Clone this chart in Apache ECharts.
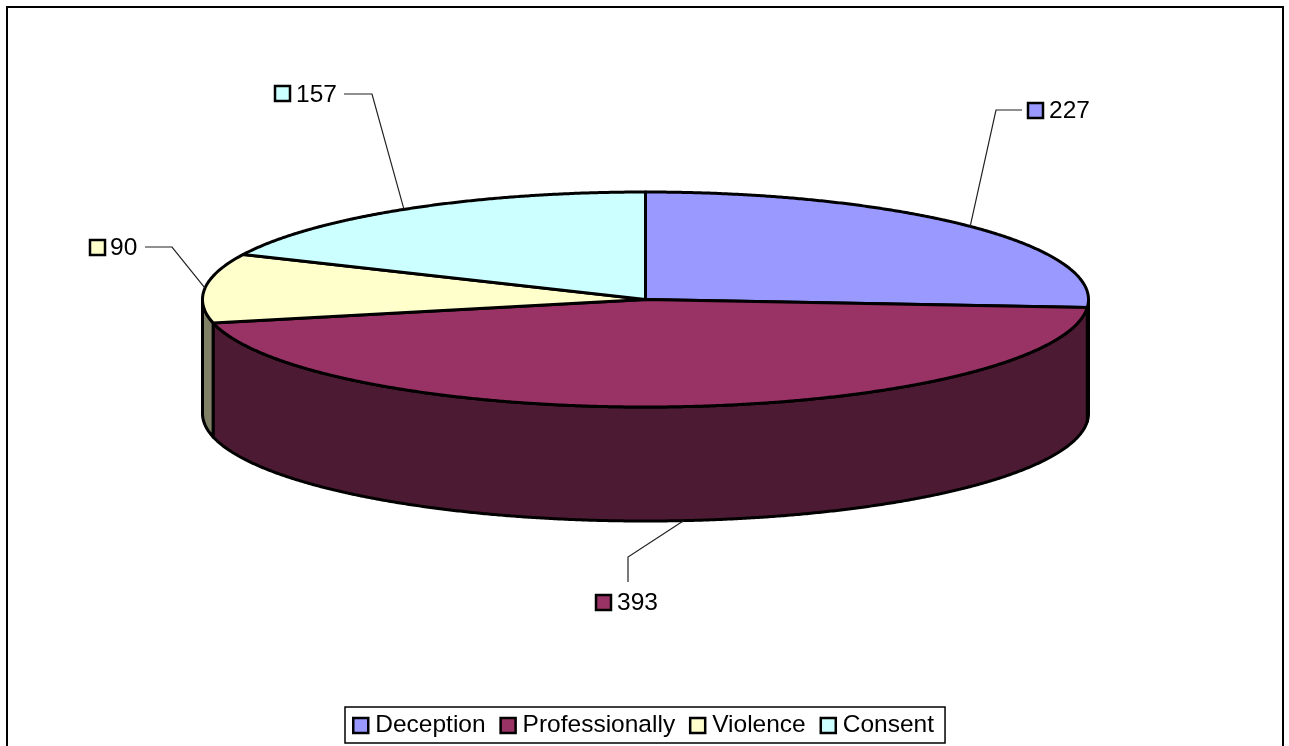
<!DOCTYPE html>
<html>
<head>
<meta charset="utf-8">
<style>
    html, body { margin: 0; padding: 0; background: #fff; overflow: hidden; }
    #chart { width: 1289px; height: 746px; }
</style>
<script src="https://cdn.jsdelivr.net/npm/echarts@6/dist/echarts.min.js"></script>
</head>
<body>
<div id="chart"></div>
<script>
    const categories = ['Deception', 'Professionally', 'Violence', 'Consent'];
    const values = [227, 393, 90, 157];
    const colors = ['#9999FF', '#993366', '#FFFFCC', '#CCFFFF'];
    const sideColors = ['#4D4D80', '#4D1A33', '#808066', '#668080'];

    // pie disc geometry, in pixels
    const cx = 645.5, cy = 299.5, rx = 443, ry = 107.5, depth = 114;
    // leader line nudge + elbow + end, swatch corner and text start for each label
    const labelLayout = [
        { nudge: 0, line: [[996, 110], [1022, 110]], box: [1028, 103], text: [1049, 111] },
        { nudge: 6, line: [[628, 557], [628, 582]], box: [596, 595], text: [617, 603] },
        { nudge: 0, line: [[172, 247], [145, 247]], box: [90, 240], text: [110, 248] },
        { nudge: -3, line: [[372, 94], [344, 94]], box: [275, 86], text: [296, 95] }
    ];

    const total = values.reduce((a, b) => a + b, 0);
    const toAngle = v => v / total * Math.PI * 2;

    // angle counts clockwise from 12 o'clock
    function edgePoint(a, dy) {
        return [cx + rx * Math.sin(a), cy - ry * Math.cos(a) + (dy || 0)];
    }

    function arcPoints(a0, a1, dy) {
        const pts = [];
        const n = Math.max(2, Math.ceil((a1 - a0) / 0.005));
        for (let i = 0; i <= n; i++) {
            pts.push(edgePoint(a0 + (a1 - a0) * i / n, dy));
        }
        return pts;
    }

    function renderSlice(params, api) {
        const i = params.seriesIndex;
        const before = values.slice(0, i).reduce((a, b) => a + b, 0);
        const a0 = toAngle(before);
        const a1 = a0 + toAngle(api.value(0));
        const children = [];

        // outer wall, only the front half of the disc shows
        const s0 = Math.max(a0, Math.PI / 2);
        const s1 = Math.min(a1, Math.PI * 1.5);
        if (s1 > s0) {
            const wall = arcPoints(s0, s1, 0).concat(arcPoints(s0, s1, depth).reverse());
            children.push({
                type: 'polygon',
                shape: { points: wall },
                style: { fill: sideColors[i], stroke: '#000', lineWidth: 3, lineJoin: 'round' }
            });
        }

        // top face
        children.push({
            type: 'polygon',
            shape: { points: [[cx, cy]].concat(arcPoints(a0, a1, 0)) },
            style: { fill: colors[i], stroke: '#000', lineWidth: 3, lineJoin: 'round' }
        });

        // leader line starts at the middle of the slice's rim
        const mid = (a0 + a1) / 2;
        const onFront = Math.cos(mid) < -0.5;
        const layout = labelLayout[i];
        const start = edgePoint(mid, onFront ? depth : 0);
        start[0] += layout.nudge;
        children.push({
            type: 'polyline',
            shape: { points: [start].concat(layout.line) },
            style: { fill: null, stroke: '#222', lineWidth: 1.2 }
        });
        children.push({
            type: 'rect',
            shape: { x: layout.box[0], y: layout.box[1], width: 15, height: 15 },
            style: { fill: colors[i], stroke: '#000', lineWidth: 2.5 }
        });
        children.push({
            type: 'text',
            style: {
                x: layout.text[0],
                y: layout.text[1],
                text: String(api.value(0)),
                fill: '#000',
                font: '24.5px "Liberation Sans"',
                verticalAlign: 'middle'
            }
        });
        return { type: 'group', children: children };
    }

    const chart = echarts.init(document.getElementById('chart'));
    chart.setOption({
        animation: false,
        graphic: [{
            type: 'rect',
            z: -1,
            shape: { x: 7, y: 7, width: 1276, height: 780 },
            style: { fill: '#fff', stroke: '#000', lineWidth: 2 }
        }],
        legend: {
            left: 345,
            top: 707,
            padding: [6, 11, 5, 7],
            itemWidth: 15,
            itemHeight: 15,
            itemGap: 13.8,
            borderColor: '#000',
            borderWidth: 1.5,
            backgroundColor: '#fff',
            icon: 'rect',
            itemStyle: { borderColor: '#000', borderWidth: 2.5 },
            textStyle: { color: '#000', fontFamily: 'Liberation Sans', fontSize: 24.5, padding: [3, 0, 0, 2] },
            data: categories
        },
        series: categories.map((name, i) => ({
            type: 'custom',
            name: name,
            coordinateSystem: 'none',
            silent: true,
            itemStyle: { color: colors[i] },
            renderItem: renderSlice,
            data: [values[i]]
        }))
    });
</script>
</body>
</html>
